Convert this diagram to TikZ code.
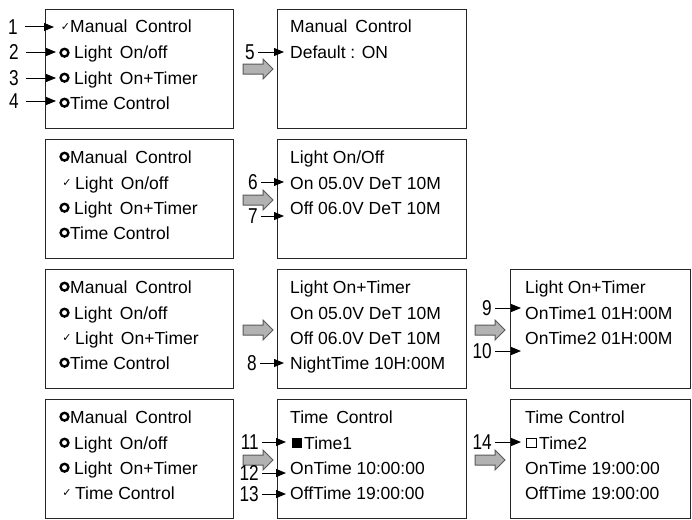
\documentclass[tikz,border=0pt]{standalone}
\usepackage{fontspec}
\setmainfont{Liberation Sans}
\newfontfamily\numfont[FakeStretch=0.8]{Liberation Sans}
\newfontfamily\symfont{DejaVu Sans}
\usetikzlibrary{arrows.meta}
\newcommand\dsp{\hspace{0.45em}}
\tikzset{
  box/.style={draw=black!85, line width=1.4pt, anchor=north west, minimum width=#1, minimum height=118.5pt, inner sep=0pt},
  txt/.style={anchor=base west, inner sep=0pt, font=\fontsize{17.5}{20}\selectfont},
  num/.style={anchor=east, inner sep=0pt, font=\numfont\fontsize{21.5}{23}\selectfont},
  chk/.style={inner sep=0pt, font=\symfont\fontsize{11}{12}\selectfont},
  ptr/.style={-{Triangle[length=10pt,width=8pt]}, line width=1pt},
  garr/.style={draw=black!65, fill=black!30, line width=1pt, line join=miter},
  ringmark/.style={line width=2.4pt}
}
\newcommand\garrow[2]{\filldraw[garr, shift={(#1,#2)}] (-15,-5) -- (5,-5) -- (5,-10) -- (15,0) -- (5,10) -- (5,5) -- (-15,5) -- cycle;}
\begin{document}
\begin{tikzpicture}[x=1pt,y=-1pt]
\useasboundingbox (0,0) rectangle (692,519);
% boxes
\node[box=188pt] (b11) at (45,9) {};
\node[box=189pt] (b12) at (277,9) {};
\node[box=188pt] (b21) at (45,139) {};
\node[box=189pt] (b22) at (277,139) {};
\node[box=188pt] (b31) at (45,269) {};
\node[box=189pt] (b32) at (277,269) {};
\node[box=180pt] (b33) at (510,269) {};
\node[box=188pt] (b41) at (45,399) {};
\node[box=189pt] (b42) at (277,399) {};
\node[box=180pt] (b43) at (510,399) {};
% gray arrows
\garrow{258}{69}
\garrow{258}{200}
\garrow{258}{330}
\garrow{258}{460}
\garrow{490}{330}
\garrow{490}{460}
% ---------- row 1 ----------
\node[chk] (k1) at (65.5,27) {✓};
\node[txt] (r1a) at (70,33) {Manual\dsp Control};
\draw[ringmark] (64.5,52.7) circle (3.9pt);
\node[txt] (r1b) at (74,59) {Light\dsp On/off};
\draw[ringmark] (64.5,77.7) circle (3.9pt);
\node[txt] (r1c) at (74,84) {Light\dsp On+Timer};
\draw[ringmark] (64.5,102.7) circle (3.9pt);
\node[txt] (r1d) at (70,109) {Time Control};
\node[txt] (s1a) at (290,33) {Manual\dsp Control};
\node[txt] (s1b) at (290,59) {Default : ON};
% ---------- row 2 ----------
\draw[ringmark] (64.5,156.7) circle (3.9pt);
\node[txt] (r2a) at (70,163) {Manual\dsp Control};
\node[chk] (k2) at (67,183) {✓};
\node[txt] (r2b) at (75,189) {Light\dsp On/off};
\draw[ringmark] (64.5,207.7) circle (3.9pt);
\node[txt] (r2c) at (74,214) {Light\dsp On+Timer};
\draw[ringmark] (64.5,232.7) circle (3.9pt);
\node[txt] (r2d) at (70,239) {Time Control};
\node[txt] (s2a) at (290,163) {Light On/Off};
\node[txt] (s2b) at (290,189) {On 05.0V DeT 10M};
\node[txt] (s2c) at (290,214) {Off 06.0V DeT 10M};
% ---------- row 3 ----------
\draw[ringmark] (64.5,286.7) circle (3.9pt);
\node[txt] (r3a) at (70,293) {Manual\dsp Control};
\draw[ringmark] (64.5,312.7) circle (3.9pt);
\node[txt] (r3b) at (74,319) {Light\dsp On/off};
\node[chk] (k3) at (67,338) {✓};
\node[txt] (r3c) at (75,344) {Light\dsp On+Timer};
\draw[ringmark] (64.5,362.7) circle (3.9pt);
\node[txt] (r3d) at (70,369) {Time Control};
\node[txt] (s3a) at (290,293) {Light On+Timer};
\node[txt] (s3b) at (290,319) {On 05.0V DeT 10M};
\node[txt] (s3c) at (290,344) {Off 06.0V DeT 10M};
\node[txt] (s3d) at (290,369) {NightTime 10H:00M};
\node[txt] (u3a) at (525,293) {Light On+Timer};
\node[txt] (u3b) at (525,319) {OnTime1 01H:00M};
\node[txt] (u3c) at (525,344) {OnTime2 01H:00M};
% ---------- row 4 ----------
\draw[ringmark] (64.5,416.7) circle (3.9pt);
\node[txt] (r4a) at (70,423) {Manual\dsp Control};
\draw[ringmark] (64.5,442.7) circle (3.9pt);
\node[txt] (r4b) at (74,449) {Light\dsp On/off};
\draw[ringmark] (64.5,467.7) circle (3.9pt);
\node[txt] (r4c) at (74,474) {Light\dsp On+Timer};
\node[chk] (k4) at (67,493) {✓};
\node[txt] (r4d) at (75,499) {Time Control};
\node[txt] (s4a) at (290,423) {Time\dsp Control};
\fill (292,438) rectangle (302,448);
\node[txt] (s4b) at (304,449) {Time1};
\node[txt] (s4c) at (290,474) {OnTime 10:00:00};
\node[txt] (s4d) at (290,499) {OffTime 19:00:00};
\node[txt] (u4a) at (525,423) {Time Control};
\draw[line width=1pt] (526.5,438.5) rectangle (536.5,447.5);
\node[txt] (u4b) at (539,449) {Time2};
\node[txt] (u4c) at (525,474) {OnTime 19:00:00};
\node[txt] (u4d) at (525,499) {OffTime 19:00:00};
% ---------- numbered pointers ----------
\node[num] (n1) at (18,27) {1};   \coordinate (t1) at (54,27);
\node[num] (n2) at (19,52) {2};   \coordinate (t2) at (56,52);
\node[num] (n3) at (19,78) {3};   \coordinate (t3) at (56,78);
\node[num] (n4) at (19,101) {4};  \coordinate (t4) at (56,101);
\node[num] (n5) at (255,52) {5};  \coordinate (t5) at (284,52);
\node[num] (n6) at (258,182) {6}; \coordinate (t6) at (284,182);
\node[num] (n7) at (258,216) {7}; \coordinate (t7) at (284,216);
\node[num] (n8) at (257,363) {8}; \coordinate (t8) at (284,363);
\node[num] (n9) at (492,308) {9}; \coordinate (t9) at (521,308);
\node[num] (n10) at (492,351) {10}; \coordinate (t10) at (521,351);
\node[num] (n11) at (259,442) {11}; \coordinate (t11) at (286,442);
\node[num] (n12) at (259,473) {12}; \coordinate (t12) at (286,473);
\node[num] (n13) at (259,494) {13}; \coordinate (t13) at (286,494);
\node[num] (n14) at (492,442) {14}; \coordinate (t14) at (521,442);
\foreach \i in {1,2,3,4} \draw[ptr, shorten <=7pt] (n\i) -- (t\i);
\foreach \i in {5,6,7,8,9,10,11,12,13,14} \draw[ptr, shorten <=3pt] (n\i) -- (t\i);
\end{tikzpicture}
\end{document}
